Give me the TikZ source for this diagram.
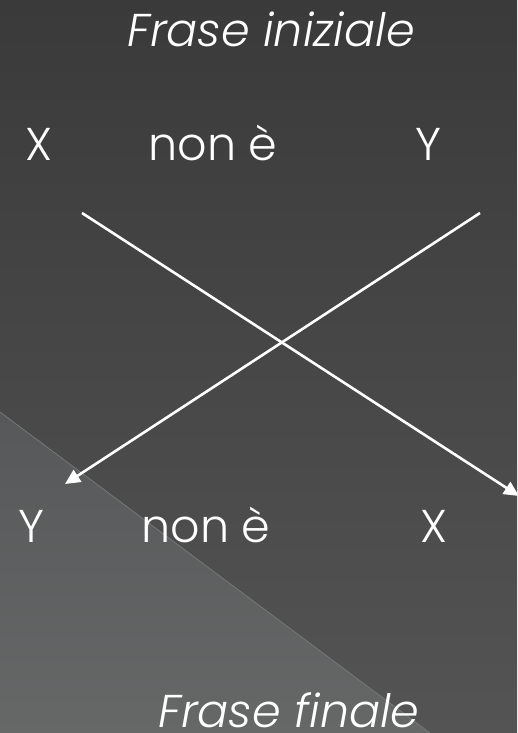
\documentclass[tikz,border=0pt]{standalone}
\usepackage{fontspec}
\setmainfont{Poppins Light}[ItalicFont={Poppins Light Italic}]
\usepackage{tikz}
\usetikzlibrary{arrows.meta, positioning}
\definecolor{bgtop}{RGB}{58,58,58}
\definecolor{bgbot}{RGB}{84,84,84}
\definecolor{tritop}{RGB}{86,88,89}
\definecolor{tribot}{RGB}{102,104,104}
\definecolor{triedge}{RGB}{118,120,120}
\tikzset{
  word/.style={text=white, font=\fontsize{46}{50}\selectfont,
    inner sep=0pt, anchor=base},
  title/.style={word, font=\fontsize{46}{50}\selectfont\itshape},
  swap/.style={-{Triangle[length=15pt, width=14pt]}, line width=2.6pt, color=white}
}
\begin{document}
\begin{tikzpicture}[x=1pt, y=-1pt]
  % ── Background ─────────────────────────────────────────────────────────────
  \shade[top color=bgtop, bottom color=bgbot] (0,0) rectangle (517,733);
  \useasboundingbox (0,0) rectangle (517,733);
  \clip (0,0) rectangle (517,733);
  % Lighter lower-left wedge
  \shade[top color=tritop, bottom color=tribot] (0,412) -- (430,733) -- (0,733) -- cycle;
  \draw[triedge, line width=0.8pt] (0,412) -- (430,733);

  % ── Initial sentence ───────────────────────────────────────────────────────
  \node[title] (ini) at (271,47) {Frase iniziale};
  \node[word] (x1) at (39,160) {X};
  \node[word] (ne1) at (213,160) {non è};
  \node[word] (y1) at (428,160) {Y};

  % ── Final sentence ─────────────────────────────────────────────────────────
  \node[word] (y2) at (31,542) {Y};
  \node[word] (ne2) at (206,542) {non è};
  \node[word] (x2) at (434,542) {X};
  \node[title, text depth=0pt] (fin) at (289,727) {Frase finale};

  % ── Swapping arrows ────────────────────────────────────────────────────────
  \coordinate (xfrom) at (82,213);
  \coordinate (xto) at (519,496);
  \coordinate (yfrom) at (480,213);
  \coordinate (yto) at (65,484);
  \draw[swap] (xfrom) -- (xto);
  \draw[swap] (yfrom) -- (yto);
\end{tikzpicture}
\end{document}
